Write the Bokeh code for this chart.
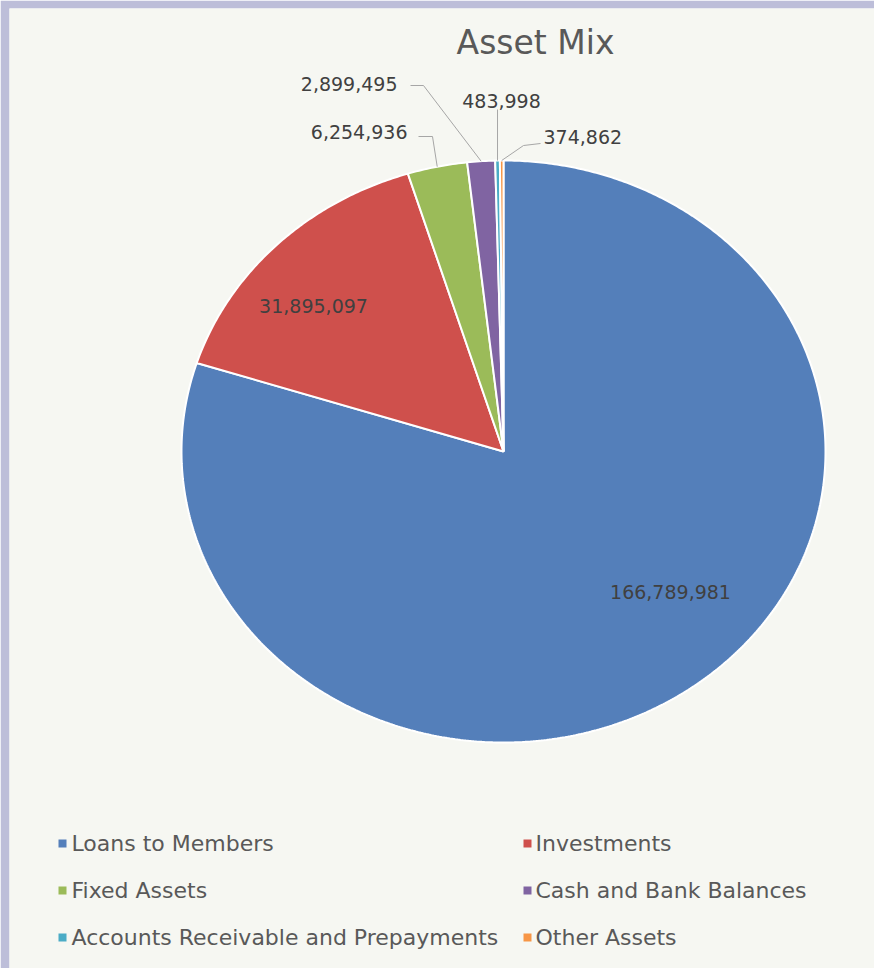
import numpy as np
from bokeh.plotting import figure
from bokeh.models import Range1d
from bokeh.core.properties import value
from bokeh.embed import file_html
from bokeh.resources import INLINE

# ---- data ----
categories = ["Loans to Members", "Investments", "Fixed Assets",
              "Cash and Bank  Balances", "Accounts Receivable and Prepayments", "Other Assets"]
amounts = [166789981, 31895097, 6254936, 2899495, 483998, 374862]
colors = ["#547FBA", "#CF504C", "#9BBB59", "#8064A2", "#4BACC6", "#F79646"]
title_text = "Asset Mix"

# ---- layout (pixel-like data space, y downward) ----
W, H = 874, 968
CX, CY, RX, RY = 503, 451, 322, 291
FONT = "DejaVu Sans"

p = figure(width=W, height=H, output_backend="svg", toolbar_location=None,
           x_range=Range1d(9, W), y_range=Range1d(H, 8),
           x_axis_location=None, y_axis_location=None,
           min_border_left=9, min_border_top=8, min_border_right=0, min_border_bottom=0,
           background_fill_color="#F6F7F2", border_fill_color="#BDBED9",
           outline_line_color=None)
p.xgrid.visible = False
p.ygrid.visible = False

total = float(sum(amounts))
fracs = np.array(amounts) / total
ends = np.cumsum(fracs) * 2 * np.pi
starts = ends - fracs * 2 * np.pi

def pt(theta, r=1.0):
    return CX + RX * r * np.sin(theta), CY - RY * r * np.cos(theta)

xs, ys = [], []
for a0, a1 in zip(starts, ends):
    t = np.linspace(a0, a1, max(4, int((a1 - a0) * 120)))
    ex, ey = pt(t)
    xs.append([CX] + list(ex))
    ys.append([CY] + list(ey))
p.patches(xs, ys, fill_color=colors, line_color="white", line_width=2)

# ---- data labels ----
labels = [f"{v:,}" for v in amounts]
lab_pos = [(670, 591, "center"), (313, 305, "center"), (407, 131, "right"),
           (397, 83, "right"), (501, 100, "center"), (543, 136, "left")]
p.text([q[0] for q in lab_pos], [q[1] for q in lab_pos], text=labels,
       text_align=[q[2] for q in lab_pos], text_baseline="middle",
       text_font=value(FONT), text_font_size="19px", text_color="#404040")

# leader lines for the small slices
elbows = {2: [(418, 136), (432, 136)], 3: [(410, 85), (423, 85)],
          4: [(498, 109)], 5: [(540, 143), (523, 145)]}
lx, ly = [], []
for i, pts in elbows.items():
    mid = (starts[i] + ends[i]) / 2
    ex, ey = pt(mid)
    if i == 4:
        pts = [(ex, 109)]
    lx.append([q[0] for q in pts] + [ex])
    ly.append([q[1] for q in pts] + [ey])
p.multi_line(lx, ly, line_color="#A6A6A6", line_width=1)

# ---- title ----
p.text([535], [42], text=[title_text], text_align="center", text_baseline="middle",
       text_font=value(FONT), text_font_size="33px", text_color="#595959")

# ---- legend ----
col_mx, col_tx = [62, 527], [71, 535]
row_y = [843, 890, 937]
mx, my, tx = [], [], []
for i in range(len(categories)):
    r, c = divmod(i, 2)
    mx.append(col_mx[c]); my.append(row_y[r]); tx.append(col_tx[c])
p.scatter(mx, my, marker="square", size=8, fill_color=colors, line_color=None)
p.text(tx, my, text=categories, text_align="left", text_baseline="middle",
       text_font=value(FONT), text_font_size="22px", text_color="#595959")

open("out.html", "w").write(file_html(p, INLINE))
